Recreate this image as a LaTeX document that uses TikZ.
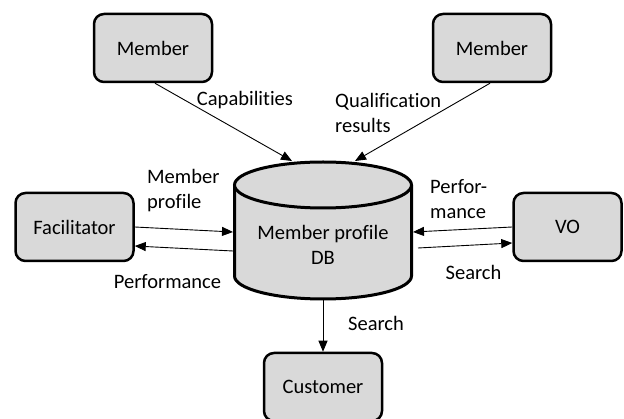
\documentclass[tikz,border=0pt]{standalone}
\usepackage{fontspec}
\setmainfont[Ligatures=NoCommon]{Carlito}
\usetikzlibrary{arrows.meta,calc}
\definecolor{boxgray}{HTML}{D9D9D9}
\begin{document}
\begin{tikzpicture}[x=1pt,y=-1pt,
  box/.style={draw, line width=2.5pt, rounded corners=10pt, fill=boxgray,
    minimum width=118pt, minimum height=68pt, inner sep=0pt,
    font=\fontsize{20.5}{25}\selectfont},
  flow/.style={line width=0.9pt, -{Triangle[length=11pt,width=9pt]}},
  lbl/.style={font=\fontsize{20.5}{25}\selectfont, inner sep=0pt}]
\useasboundingbox (0,0) rectangle (624,419);

% actors around the database
\node[box] (m1) at (153,48) {Member};
\node[box] (m2) at (492,48) {Member};
\node[box] (fac) at (74.5,227) {Facilitator};
\node[box, minimum width=108pt] (vo) at (567.5,227) {VO};
\node[box] (cust) at (323,387) {Customer};

% the member profile database drawn as a cylinder
\fill[boxgray] (234.5,185) -- (234.5,276)
  arc[start angle=180, end angle=0, x radius=88.5, y radius=23]
  -- (411.5,185) -- cycle;
\draw[line width=3pt] (234.5,185) -- (234.5,276)
  arc[start angle=180, end angle=0, x radius=88.5, y radius=23]
  -- (411.5,185);
\draw[line width=3pt, fill=boxgray] (323,185) ellipse[x radius=88.5, y radius=23];
\node[lbl, align=center] (db) at (323,244.5) {Member profile\\DB};

% attachment points on the cylinder
\coordinate (dbCapIn) at (292,161);
\coordinate (dbQualIn) at (355,161);
\coordinate (dbLeftIn) at (233,232);
\coordinate (dbLeftOut) at (233,251);
\coordinate (dbRightIn) at (413,232);
\coordinate (dbRightOut) at (418,248);
\coordinate (dbBottom) at (323,299);

% information flows
\draw[flow] ($(m1.south)+(2,0)$) -- (dbCapIn);
\draw[flow] ($(m2.south)+(-2,0)$) -- (dbQualIn);
\draw[flow] (fac.east) -- (dbLeftIn);
\draw[flow] (dbLeftOut) -- ($(fac.east)+(0,19)$);
\draw[flow] (vo.west) -- (dbRightIn);
\draw[flow] (dbRightOut) -- ($(vo.west)+(0,16)$);
\draw[flow] (dbBottom) -- (cust.north);

% flow labels
\node[lbl] (lcap) at (245,100) {Capabilities};
\node[lbl, anchor=west, align=left] (lqual) at (335,112.5) {Qualification\\results};
\node[lbl, anchor=west, align=left] (lprof) at (147,190.5) {Member\\profile};
\node[lbl] (lperfl) at (167.5,282) {Performance};
\node[lbl, anchor=west, align=left] (lperfr) at (430,199) {Perfor-\\mance};
\node[lbl] (lsearchr) at (473.5,272) {Search};
\node[lbl] (lsearchb) at (376,323) {Search};
\end{tikzpicture}
\end{document}
